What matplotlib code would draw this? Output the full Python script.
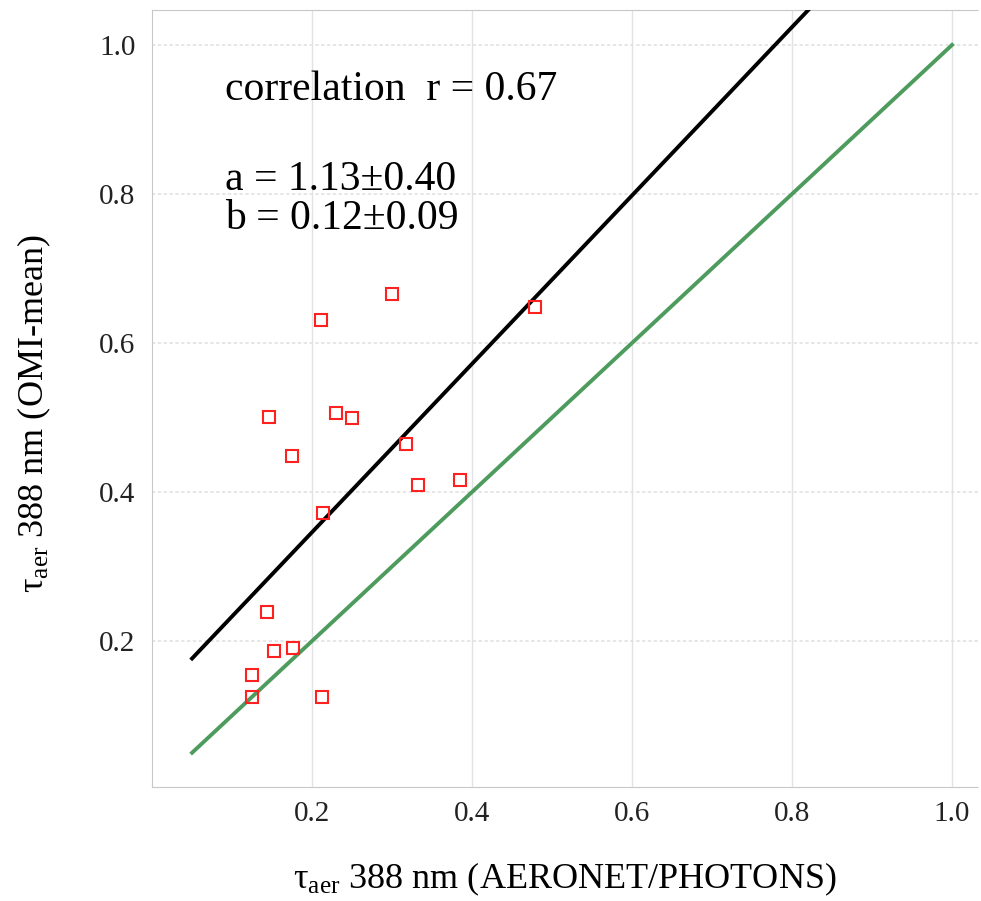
import numpy as np
import matplotlib
matplotlib.use("Agg")
import matplotlib.pyplot as plt

plt.rcParams['font.family'] = ['Liberation Serif', 'DejaVu Serif']
plt.rcParams['mathtext.fontset'] = 'custom'
plt.rcParams['mathtext.rm'] = 'Liberation Serif'

# AERONET/PHOTONS vs OMI-mean aerosol optical depth at 388 nm
tau_ground = [0.125, 0.125, 0.146, 0.144, 0.153, 0.175, 0.176, 0.211, 0.214,
              0.213, 0.230, 0.250, 0.300, 0.318, 0.333, 0.385, 0.479]
tau_omi = [0.125, 0.154, 0.501, 0.239, 0.187, 0.448, 0.191, 0.631, 0.372,
           0.125, 0.506, 0.499, 0.666, 0.464, 0.409, 0.416, 0.648]

# linear fit y = a*x + b
slope = 1.13
slope_err = 0.40
intercept = 0.12
intercept_err = 0.09
corr_r = 0.67

line_x = [0.05, 1.0]
ticks = [0.2, 0.4, 0.6, 0.8, 1.0]

fig = plt.figure(figsize=(9.81, 9.01), dpi=100)
ax = fig.add_axes([0.155, 0.1265, 0.842, 0.8625])

ax.set_xlim(0, 1.0325)
ax.set_ylim(0.004, 1.047)

# grid: solid verticals, dotted horizontals
for t in ticks:
    ax.axvline(t, color='#e2e2e2', lw=1.0, zorder=0)
    ax.axhline(t, color='#e2e2e2', lw=1.2, ls=(0, (2, 1.5)), zorder=0)

xs = np.array(line_x)
ax.plot(xs, xs, color='#4e9b5e', lw=2.8, zorder=2)
fit_x = np.array([0.05, 0.9])
ax.plot(fit_x, slope * fit_x + intercept, color='black', lw=2.8, zorder=3)

ax.plot(tau_ground, tau_omi, ls='none', marker='s', ms=9, mfc='none',
        mec='#ff2020', mew=1.5, zorder=4)

ax.set_xticks(ticks)
ax.set_yticks(ticks)
ax.set_xticklabels([f"{t:.1f}" for t in ticks])
ax.set_yticklabels([f"{t:.1f}" for t in ticks])
ax.tick_params(length=0, labelsize=21, colors='#222222')
ax.tick_params(axis='x', pad=10)
ax.tick_params(axis='y', pad=12)

for side in ['top', 'bottom']:
    ax.spines[side].set_color('#c8c8c8')
    ax.spines[side].set_linestyle((0, (2, 1)))
ax.spines['left'].set_color('#c8c8c8')
ax.spines['right'].set_visible(False)

ax.set_xlabel(r'$\mathregular{\tau_{aer}}$ 388 nm (AERONET/PHOTONS)',
              fontsize=26, labelpad=24)
ax.set_ylabel(r'$\mathregular{\tau_{aer}}$ 388 nm (OMI-mean)',
              fontsize=26, labelpad=22)
ax.yaxis.set_label_coords(-0.12, 0.48)

ax.text(0.088, 0.922, f"correlation  r = {corr_r:.2f}", fontsize=30,
        transform=ax.transAxes, va='top')
ax.text(0.088, 0.806, f"a = {slope:.2f}\u00b1{slope_err:.2f}\nb = {intercept:.2f}\u00b1{intercept_err:.2f}",
        fontsize=30, transform=ax.transAxes, va='top', linespacing=1.0)

fig.savefig('out.png', dpi=100)
